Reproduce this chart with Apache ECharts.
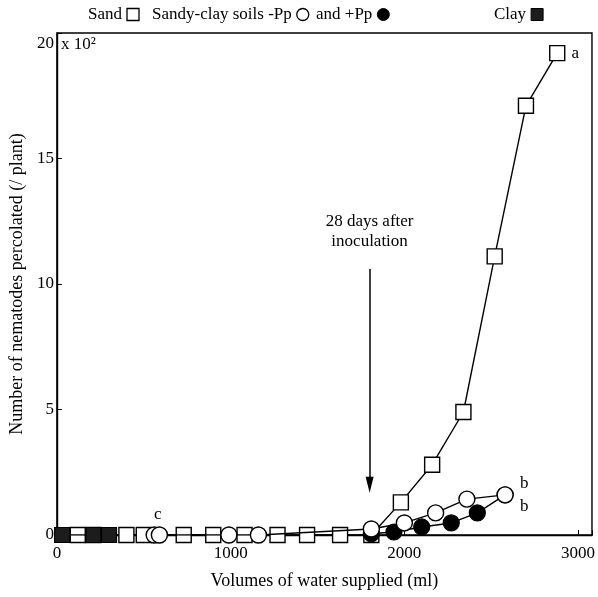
<!DOCTYPE html>
<html>
<head>
<meta charset="utf-8">
<script src="https://cdn.jsdelivr.net/npm/echarts@6/dist/echarts.min.js"></script>
<style>
html, body { margin: 0; padding: 0; background: #fff; }
#chart { width: 598px; height: 597px; }
</style>
</head>
<body>
<div id="chart"></div>
<script>
// Volumes of water supplied (ml) and nematodes percolated (x 10^2 per plant)
const sandX   = [120, 210, 400, 500, 730, 900, 1080, 1270, 1440, 1630, 1810, 1980, 2160, 2340, 2520, 2700, 2880];
const sandY   = [0, 0, 0, 0, 0, 0, 0, 0, 0, 0, 0, 1.3, 2.8, 4.9, 11.1, 17.1, 19.2];
const minusPpX = [560, 590, 990, 1160, 1810, 2000, 2180, 2360, 2580];
const minusPpY = [0, 0, 0, 0, 0.24, 0.48, 0.88, 1.43, 1.6];
const plusPpX  = [1810, 1940, 2100, 2270, 2420, 2580];
const plusPpY  = [0.05, 0.12, 0.32, 0.48, 0.88, 1.6];
const clayX   = [30, 210, 300];
const clayY   = [0, 0, 0];
const xTicks  = [0, 1000, 2000, 3000];
const yTicks  = [0, 5, 10, 15, 20];

const FONT = 'Liberation Serif';
const pairs = (xs, ys) => xs.map((x, i) => [x, ys[i]]);

const chart = echarts.init(document.getElementById('chart'), null, { renderer: 'canvas' });

const lineBase = {
  type: 'line',
  showAllSymbol: true,
  animation: false,
  lineStyle: { color: '#000', width: 1.4 },
  emphasis: { disabled: true }
};

const sandData = pairs(sandX, sandY);
const lastSand = sandData.length - 1;
sandData[lastSand] = {
  value: sandData[lastSand],
  label: { show: true, position: 'right', distance: 6, formatter: 'a', fontFamily: FONT, fontSize: 17, color: '#000' }
};

// Invisible anchor used for text placed at data coordinates
const textMark = {
  silent: true, animation: false, symbol: 'circle', symbolSize: 1,
  itemStyle: { color: 'transparent' },
  label: { show: true, position: 'inside', fontFamily: FONT, fontSize: 17, color: '#000', lineHeight: 20, align: 'center', verticalAlign: 'middle' }
};

const legendText = { fontFamily: FONT, fontSize: 17, color: '#000' };
const legendCommon = { top: 6, align: 'right', itemWidth: 12, itemHeight: 12, textStyle: legendText, selectedMode: false, padding: 0 };

chart.setOption({
  backgroundColor: '#fff',
  animation: false,
  grid: { left: 54, right: 4, top: 33, bottom: 62, show: true, borderColor: '#000', borderWidth: 1.4 },
  legend: [
    Object.assign({}, legendCommon, { left: 88, data: [{ name: 'Sand', icon: 'rect', itemStyle: { color: '#fff', borderColor: '#000', borderWidth: 1.3 } }] }),
    Object.assign({}, legendCommon, { left: 152, data: [{ name: 'Sandy-clay soils -Pp', icon: 'circle', itemStyle: { color: '#fff', borderColor: '#000', borderWidth: 1.3 } }] }),
    Object.assign({}, legendCommon, { left: 316, data: [{ name: 'and +Pp', icon: 'circle', itemStyle: { color: '#000', borderColor: '#000', borderWidth: 1 } }] }),
    Object.assign({}, legendCommon, { left: 494, data: [{ name: 'Clay', icon: 'rect', itemStyle: { color: '#1c1c1c', borderColor: '#000', borderWidth: 1 } }] })
  ],
  xAxis: {
    type: 'value', min: 0, max: 3080, interval: 1000,
    name: 'Volumes of water supplied (ml)', nameLocation: 'middle', nameGap: 37,
    nameTextStyle: { fontFamily: FONT, fontSize: 18, color: '#000' },
    axisLine: { show: true, onZero: false, lineStyle: { color: '#000', width: 1.4 } },
    axisTick: { show: true, inside: true, length: 5, lineStyle: { color: '#000' } },
    axisLabel: { fontFamily: FONT, fontSize: 17, color: '#000', margin: 10,
      formatter: v => (xTicks.indexOf(v) >= 0 ? String(v) : '') },
    splitLine: { show: false }
  },
  yAxis: {
    type: 'value', min: 0, max: 20, interval: 5,
    name: 'Number of nematodes percolated (/ plant)', nameLocation: 'middle', nameGap: 30,
    nameTextStyle: { fontFamily: FONT, fontSize: 18, color: '#000' },
    axisLine: { show: true, onZero: false, lineStyle: { color: '#000', width: 1.4 } },
    axisTick: { show: true, inside: true, length: 5, lineStyle: { color: '#000' } },
    axisLabel: { fontFamily: FONT, fontSize: 17, color: '#000', margin: 3,
      formatter: v => (v === 20 ? '{top|20}' : (yTicks.indexOf(v) >= 0 ? String(v) : '')),
      rich: { top: { fontFamily: FONT, fontSize: 17, color: '#000', padding: [22, 0, 0, 0] } } },
    splitLine: { show: false }
  },
  graphic: [
    { type: 'text', left: 61, top: 36, style: { text: 'x 10²', fontFamily: FONT, fontSize: 17, fill: '#000' } }
  ],
  series: [
    Object.assign({}, lineBase, {
      name: 'Clay', data: pairs(clayX, clayY), symbol: 'rect', symbolSize: 15,
      itemStyle: { color: '#1c1c1c', borderColor: '#000', borderWidth: 1.2 }, z: 4
    }),
    Object.assign({}, lineBase, {
      name: 'Sand', data: sandData, symbol: 'rect', symbolSize: 15,
      itemStyle: { color: '#fff', borderColor: '#000', borderWidth: 1.4 }, z: 3,
      markLine: {
        silent: true, animation: false, symbol: ['none', 'triangle'], symbolSize: [8, 16],
        lineStyle: { color: '#000', width: 1.5, type: 'solid' }, label: { show: false },
        data: [[{ coord: [1800, 10.6] }, { coord: [1800, 2.0] }]]
      },
      markPoint: Object.assign({}, textMark, {
        data: [
          { coord: [1800, 12.1], label: { formatter: '28 days after\ninoculation' } },
          { coord: [580, 0.8], label: { formatter: 'c' } }
        ]
      })
    }),
    Object.assign({}, lineBase, {
      name: 'and +Pp', data: pairs(plusPpX, plusPpY), symbol: 'circle', symbolSize: 16,
      itemStyle: { color: '#000', borderColor: '#000', borderWidth: 1.2 }, z: 5
    }),
    Object.assign({}, lineBase, {
      name: 'Sandy-clay soils -Pp', data: pairs(minusPpX, minusPpY), symbol: 'circle', symbolSize: 16,
      itemStyle: { color: '#fff', borderColor: '#000', borderWidth: 1.4 }, z: 6,
      markPoint: Object.assign({}, textMark, {
        data: [
          { coord: [2690, 2.05], label: { formatter: 'b' } },
          { coord: [2690, 1.15], label: { formatter: 'b' } }
        ]
      })
    })
  ]
});
</script>
</body>
</html>
